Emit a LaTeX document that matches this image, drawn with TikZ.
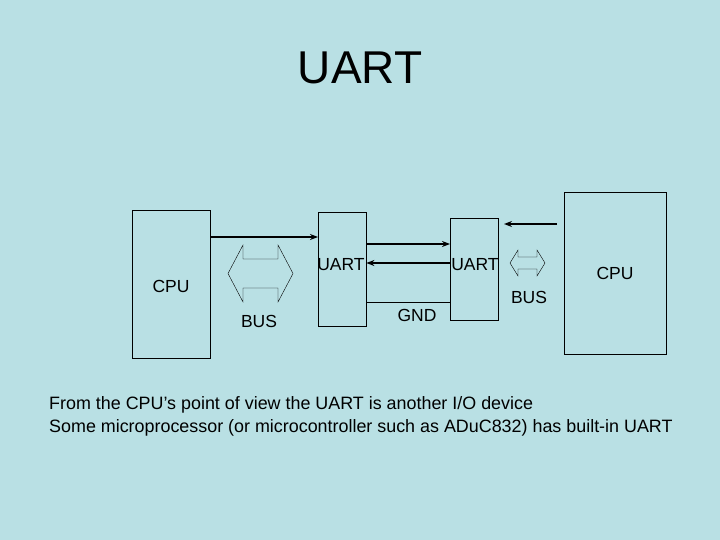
\documentclass[tikz,border=0pt]{standalone}
\usepackage{fontspec}
\setmainfont{Liberation Sans}
\usetikzlibrary{arrows.meta}
\definecolor{bg}{RGB}{185,224,228}
\begin{document}
\begin{tikzpicture}[x=1pt,y=-1pt,
  box/.style={draw,thin,inner sep=0,anchor=north west},
  lbl/.style={font=\fontsize{17.5}{19}\selectfont},
  sig/.style={line width=1.4pt,-{Stealth[length=8pt,width=6pt]}},
  dbl/.style={draw,line width=0.4pt}]
\fill[bg] (0,0) rectangle (720,540);
\useasboundingbox (0,0) rectangle (720,540);
\node (title) at (360,68) {\fontsize{46}{50}\selectfont UART};
\node[box,minimum width=78pt,minimum height=148pt] (cpu1) at (132,210) {};
\node[lbl] (cpu1t) at (171,286) {CPU};
\node[box,minimum width=48pt,minimum height=114pt] (u1) at (318,212) {};
\node[lbl] (u1t) at (341,265) {UART};
\node[box,minimum width=48pt,minimum height=102pt] (u2) at (450,218) {};
\node[lbl] (u2t) at (475,265) {UART};
\node[box,minimum width=102pt,minimum height=162pt] (cpu2) at (564,192) {};
\node[lbl] (cpu2t) at (615,273) {CPU};
\draw[sig] (cpu1.east |- 0,237) -- (u1.west |- 0,237);
\draw[sig] (u1.east |- 0,244) -- (u2.west |- 0,244);
\draw[sig] (u2.west |- 0,263) -- (u1.east |- 0,263);
\draw[thin] (u1.east |- 0,302) -- (u2.west |- 0,302);
\node[lbl] (gnd) at (417,315) {GND};
\coordinate (rs) at (557,224);
\coordinate (re) at (504,224);
\draw[sig] (rs) -- (re);
\draw[dbl] (228,273.5) -- (243,245) -- (243,259) -- (278,259) -- (278,245) -- (293,273.5)
  -- (278,302) -- (278,288) -- (243,288) -- (243,302) -- cycle;
\node[lbl] (bus1) at (259,321) {BUS};
\draw[dbl] (510,263) -- (518,250) -- (518,257) -- (537,257) -- (537,250) -- (545,263)
  -- (537,276) -- (537,269) -- (518,269) -- (518,276) -- cycle;
\node[lbl] (bus2) at (529,297) {BUS};
\node[anchor=west,align=left,font=\fontsize{17.9}{23}\selectfont,inner sep=0] (txt) at (49,416)
 {From the CPU’s point of view the UART is another I/O device\\
  Some microprocessor (or microcontroller such as ADuC832) has built-in UART};
\end{tikzpicture}
\end{document}
